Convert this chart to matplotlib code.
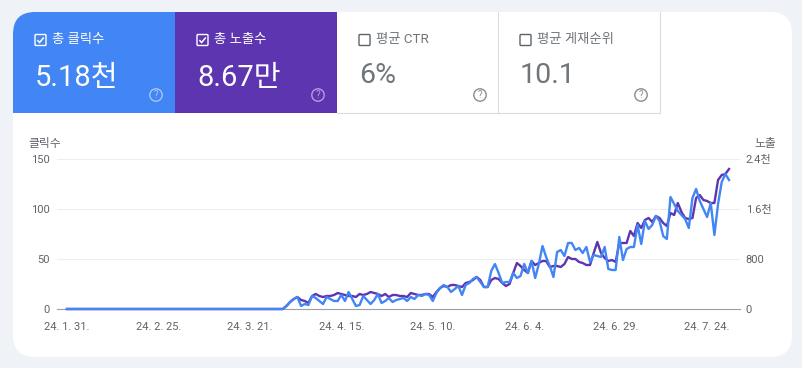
import matplotlib
matplotlib.use('Agg')
import numpy as np
import matplotlib.pyplot as plt
from matplotlib.patches import FancyBboxPatch, Rectangle, Circle, PathPatch
from matplotlib.path import Path

FONT = ['Roboto', 'Noto Sans CJK KR', 'DejaVu Sans']
plt.rcParams['font.family'] = FONT

# daily values, first 60 days are all zero
zero_days = [0] * 60
clicks = zero_days + [
    3, 7, 10, 12, 3, 5, 4, 13, 11, 8,
    5, 12, 10, 8, 8, 14, 8, 17, 10, 3,
    4, 13, 9, 5, 9, 15, 6, 8, 11, 7,
    9, 10, 11, 8, 12, 10, 14, 13, 15, 14,
    8, 16, 21, 24, 22, 17, 20, 23, 14, 24,
    26, 30, 32, 27, 22, 22, 38, 45, 36, 26,
    27, 27, 36, 31, 33, 45, 36, 48, 31, 45,
    63, 52, 43, 32, 57, 59, 53, 66, 66, 59,
    61, 56, 62, 47, 54, 53, 52, 62, 40, 39,
    39, 72, 49, 60, 62, 62, 84, 65, 88, 80,
    84, 93, 88, 73, 70, 112, 105, 98, 94, 90,
    81, 111, 120, 108, 100, 92, 106, 74, 105, 127,
    135, 129]
impressions = zero_days + [
    48, 112, 160, 192, 144, 128, 96, 208, 240, 208,
    192, 208, 208, 224, 256, 240, 224, 208, 208, 192,
    240, 224, 240, 272, 256, 240, 208, 240, 192, 224,
    224, 208, 208, 192, 256, 240, 224, 224, 240, 240,
    192, 272, 336, 368, 352, 384, 384, 368, 352, 416,
    432, 464, 512, 464, 352, 352, 464, 496, 480, 416,
    368, 400, 576, 736, 688, 624, 576, 768, 704, 736,
    768, 768, 672, 688, 688, 672, 720, 832, 800, 800,
    752, 736, 704, 704, 896, 1072, 896, 816, 768, 784,
    752, 1056, 1056, 1056, 1248, 1168, 1376, 1296, 1424, 1456,
    1392, 1488, 1456, 1376, 1328, 1536, 1504, 1696, 1552, 1456,
    1440, 1456, 1776, 1824, 1744, 1728, 1696, 1696, 2064, 2144,
    2160, 2240]

date_ticks = [0, 25, 50, 75, 100, 125, 150, 175]
date_labels = ['24. 1. 31.', '24. 2. 25.', '24. 3. 21.', '24. 4. 15.',
               '24. 5. 10.', '24. 6. 4.', '24. 6. 29.', '24. 7. 24.']
click_ticks = [0, 50, 100, 150]
impression_ticks = [0, 800, 1600, 2400]
impression_labels = ['0', '800', '1.6천', '2.4천']

tab_titles = ['총 클릭수', '총 노출수', '평균 CTR', '평균 게재순위']
tab_values = ['5.18천', '8.67만', '6%', '10.1']
tab_active = [True, True, False, False]

BG = '#eff3f8'
BLUE = '#4285f4'
PURPLE = '#5e35b1'
GREY_TEXT = '#5f6368'
BORDER = '#dadce0'

W, H = 803, 368
fig = plt.figure(figsize=(W / 100, H / 100), dpi=100, facecolor=BG)

# page layer in pixel coordinates
page = fig.add_axes([0, 0, 1, 1])
page.set_xlim(0, W)
page.set_ylim(H, 0)
page.axis('off')

card = FancyBboxPatch((13, 12), 779, 345, boxstyle='round,pad=0,rounding_size=22',
                      fc='white', ec='none')
page.add_patch(card)


def draw_checkbox(x, y, active):
    col = 'white' if active else '#5f6368'
    page.add_patch(FancyBboxPatch((x, y), 11, 11, boxstyle='round,pad=0,rounding_size=1',
                                  fc='none', ec=col, lw=1))
    if active:
        path = Path([(x + 2.4, y + 5.6), (x + 4.6, y + 8), (x + 8.8, y + 3)])
        page.add_patch(PathPatch(path, fc='none', ec=col, lw=1.1))


def draw_help(x, y, col):
    page.add_patch(Circle((x, y), 6.2, fc='none', ec=col, lw=1))
    page.text(x, y + 0.3, '?', color=col, fontsize=7, ha='center', va='center')


tab_x = [13, 175, 337, 498]
tab_w = [162, 162, 161, 162]
tab_fill = [BLUE, PURPLE, 'white', 'white']
help_col = ['#a6c6fa', '#b39ddb', '#8a8d91', '#8a8d91']
for i in range(4):
    x = tab_x[i]
    if tab_active[i]:
        tab = Rectangle((x, 12), tab_w[i], 101, fc=tab_fill[i], ec='none')
        page.add_patch(tab)
        if i == 0:
            tab.set_clip_path(card)
    else:
        page.plot([x + tab_w[i], x + tab_w[i]], [12, 113], color=BORDER, lw=0.8)
        page.plot([x, x + tab_w[i]], [113, 113], color=BORDER, lw=0.8)
    txt_col = 'white' if tab_active[i] else '#70757a'
    draw_checkbox(x + 22, 34.5, tab_active[i])
    page.text(x + 39.5, 39.5, tab_titles[i], color=txt_col, fontsize=9.6, va='center')
    if tab_active[i]:
        page.text(x + 22, 86.5, tab_values[i], color=txt_col, fontsize=21, va='baseline')
    else:
        page.text(x + 22, 83, tab_values[i], color=txt_col, fontsize=20.5, va='baseline')
    draw_help(x + 143, 95, help_col[i])

# chart layer
left, right, top, bottom = 57, 740, 159, 309
ax = fig.add_axes([left / W, 1 - bottom / H, (right - left) / W, (bottom - top) / H])
ax.patch.set_alpha(0)
days = np.arange(len(clicks))
ax.set_xlim(-2.73, 184.0)
ax.set_ylim(0, 150)
ax.set_yticks(click_ticks)
ax.set_xticks(date_ticks)
ax.set_xticklabels(date_labels)
ax.grid(axis='y', color='#eceef1', lw=0.8)
ax.set_axisbelow(True)
for side in ['top', 'left', 'right']:
    ax.spines[side].set_visible(False)
ax.spines['bottom'].set_color('#9aa0a6')
ax.spines['bottom'].set_linewidth(0.8)
ax.tick_params(axis='both', length=0, labelsize=8, labelcolor=GREY_TEXT)
ax.tick_params(axis='x', pad=9)
ax.tick_params(axis='y', pad=5)

ax2 = ax.twinx()
ax2.set_ylim(0, 2400)
ax2.set_yticks(impression_ticks)
ax2.set_yticklabels(impression_labels)
ax2.tick_params(axis='y', length=0, labelsize=8, labelcolor=GREY_TEXT, pad=4)
for side in ['top', 'left', 'right', 'bottom']:
    ax2.spines[side].set_visible(False)

ax2.plot(days, impressions, color=PURPLE, lw=1.7, solid_joinstyle='round', clip_on=False)
ax2.plot(days, np.array(clicks) * 16, color=BLUE, lw=1.7, solid_joinstyle='round', clip_on=False)

page.text(28, 144, '클릭수', color=GREY_TEXT, fontsize=8.5, va='center')
page.text(776, 144, '노출', color=GREY_TEXT, fontsize=8.5, va='center', ha='right')

fig.savefig('out.png', dpi=100, facecolor=BG)
